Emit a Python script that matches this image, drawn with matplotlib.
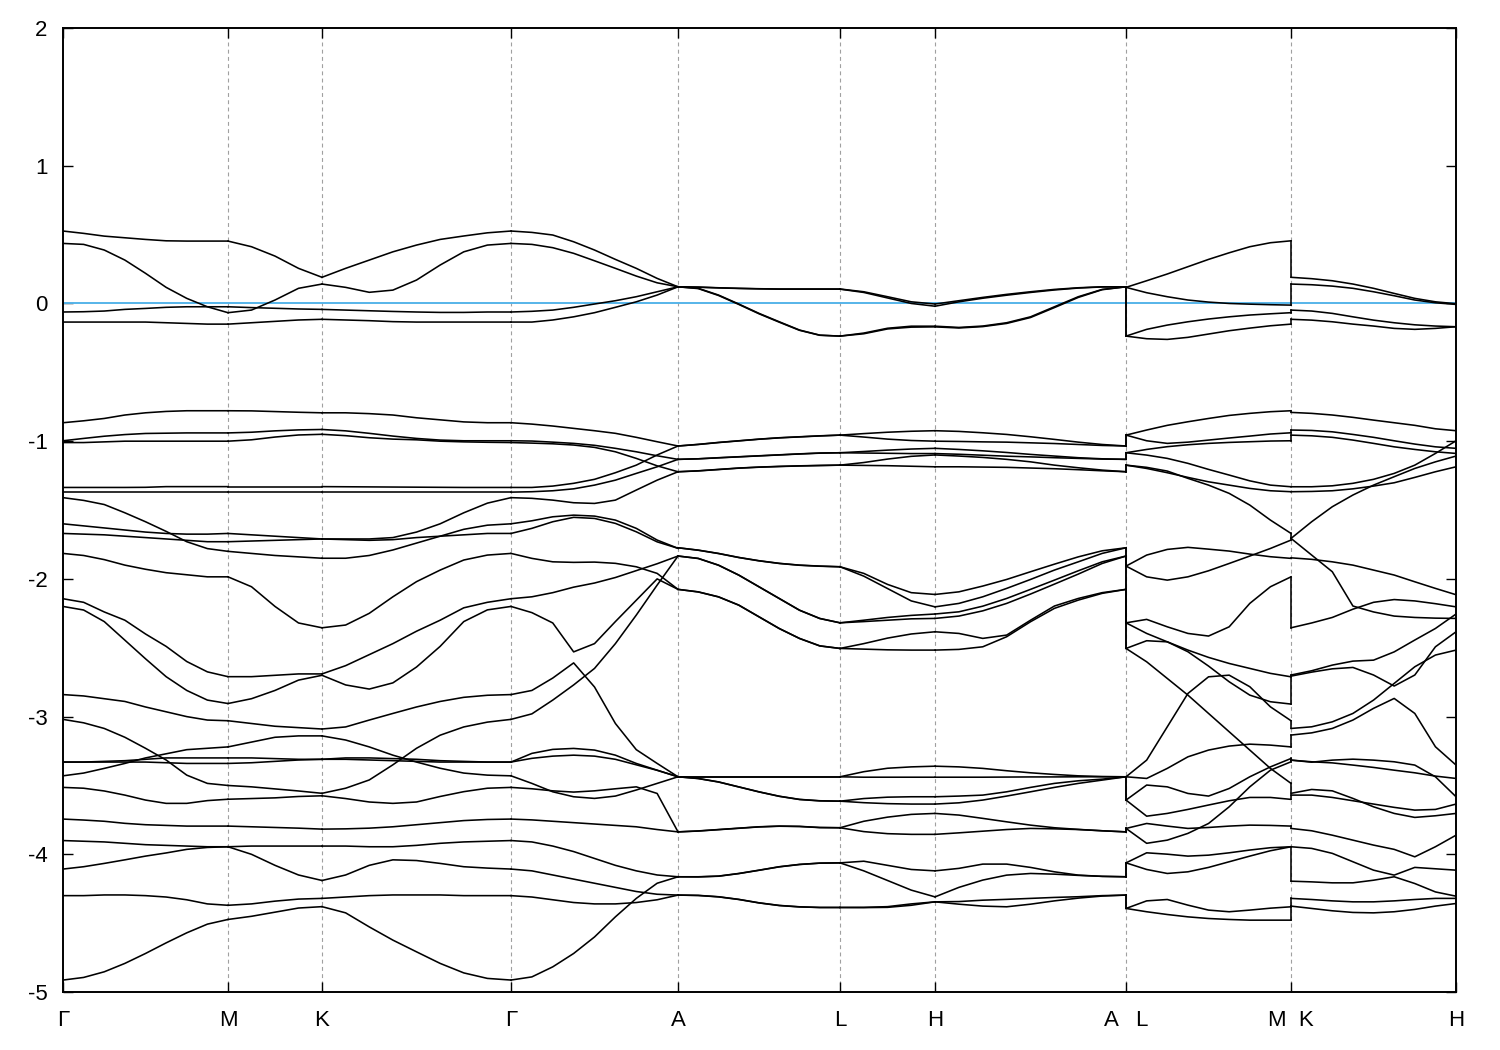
import matplotlib
matplotlib.use("Agg")
import matplotlib.pyplot as plt
import numpy as np

plt.rcParams['font.family'] = ['Liberation Sans', 'DejaVu Sans']
plt.rcParams['axes.unicode_minus'] = False

# high-symmetry points along the k-path
kpath_labels = ["Γ", "M", "K", "Γ", "A", "L", "H", "A   L", "M  K", "H"]
kpath_dist = [0.0, 1.65, 2.59, 4.48, 6.15, 7.77, 8.72, 10.63, 12.28, 13.93]

ytick_values = [-5, -4, -3, -2, -1, 0, 1, 2]

# band energies (eV) sampled evenly along each path segment
seg_GM = [
    [0.526, 0.509, 0.489, 0.477, 0.465, 0.455, 0.453, 0.453, 0.453],
    [0.436, 0.429, 0.388, 0.315, 0.219, 0.117, 0.037, -0.024, -0.067],
    [-0.062, -0.060, -0.055, -0.043, -0.036, -0.028, -0.024, -0.024, -0.024],
    [-0.135, -0.135, -0.135, -0.135, -0.135, -0.140, -0.145, -0.150, -0.150],
    [-0.866, -0.852, -0.835, -0.810, -0.794, -0.784, -0.779, -0.779, -0.779],
    [-0.997, -0.980, -0.964, -0.952, -0.944, -0.942, -0.940, -0.940, -0.940],
    [-1.010, -1.010, -1.005, -1.000, -1.000, -1.000, -1.000, -1.000, -1.000],
    [-1.336, -1.336, -1.336, -1.336, -1.335, -1.330, -1.330, -1.330, -1.330],
    [-1.370, -1.370, -1.370, -1.370, -1.370, -1.370, -1.370, -1.370, -1.370],
    [-1.410, -1.430, -1.460, -1.520, -1.585, -1.655, -1.730, -1.780, -1.800],
    [-1.600, -1.615, -1.630, -1.645, -1.660, -1.670, -1.675, -1.675, -1.670],
    [-1.670, -1.675, -1.680, -1.690, -1.700, -1.710, -1.720, -1.730, -1.730],
    [-1.815, -1.830, -1.860, -1.900, -1.930, -1.955, -1.970, -1.985, -1.985],
    [-2.144, -2.170, -2.240, -2.300, -2.400, -2.490, -2.600, -2.675, -2.710],
    [-2.200, -2.226, -2.310, -2.445, -2.580, -2.710, -2.810, -2.880, -2.905],
    [-2.840, -2.850, -2.870, -2.890, -2.930, -2.965, -3.000, -3.025, -3.030],
    [-3.020, -3.045, -3.086, -3.150, -3.230, -3.315, -3.425, -3.485, -3.500],
    [-3.330, -3.330, -3.330, -3.330, -3.330, -3.335, -3.340, -3.340, -3.340],
    [-3.330, -3.330, -3.325, -3.320, -3.310, -3.300, -3.300, -3.300, -3.300],
    [-3.430, -3.410, -3.376, -3.340, -3.300, -3.270, -3.240, -3.230, -3.220],
    [-3.514, -3.520, -3.540, -3.570, -3.606, -3.630, -3.630, -3.610, -3.600],
    [-3.744, -3.751, -3.760, -3.775, -3.785, -3.790, -3.795, -3.795, -3.795],
    [-3.900, -3.905, -3.910, -3.920, -3.930, -3.935, -3.940, -3.945, -3.945],
    [-4.107, -4.090, -4.066, -4.040, -4.013, -3.990, -3.964, -3.950, -3.945],
    [-4.300, -4.300, -4.295, -4.295, -4.300, -4.310, -4.330, -4.360, -4.370],
    [-4.913, -4.894, -4.853, -4.792, -4.720, -4.643, -4.570, -4.507, -4.473],
]

seg_MK = [
    [0.453, 0.412, 0.344, 0.255, 0.190],
    [-0.067, -0.048, 0.025, 0.110, 0.141],
    [-0.024, -0.030, -0.035, -0.040, -0.043],
    [-0.150, -0.140, -0.130, -0.120, -0.115],
    [-0.779, -0.780, -0.785, -0.790, -0.794],
    [-0.940, -0.935, -0.925, -0.918, -0.915],
    [-1.000, -0.990, -0.970, -0.955, -0.950],
    [-1.330, -1.330, -1.330, -1.330, -1.330],
    [-1.370, -1.370, -1.370, -1.370, -1.370],
    [-1.800, -1.815, -1.830, -1.840, -1.850],
    [-1.670, -1.680, -1.690, -1.700, -1.710],
    [-1.730, -1.725, -1.720, -1.715, -1.710],
    [-1.985, -2.057, -2.200, -2.320, -2.355],
    [-2.710, -2.710, -2.700, -2.690, -2.690],
    [-2.905, -2.870, -2.810, -2.735, -2.700],
    [-3.030, -3.050, -3.070, -3.080, -3.090],
    [-3.500, -3.510, -3.525, -3.540, -3.557],
    [-3.340, -3.335, -3.325, -3.315, -3.310],
    [-3.300, -3.300, -3.305, -3.310, -3.310],
    [-3.220, -3.185, -3.150, -3.140, -3.140],
    [-3.600, -3.595, -3.590, -3.580, -3.575],
    [-3.795, -3.800, -3.805, -3.810, -3.817],
    [-3.945, -3.940, -3.940, -3.940, -3.940],
    [-3.945, -4.000, -4.080, -4.150, -4.190],
    [-4.370, -4.360, -4.340, -4.325, -4.320],
    [-4.473, -4.450, -4.420, -4.390, -4.380],
]

seg_KG = [
    [0.190, 0.255, 0.315, 0.375, 0.424, 0.465, 0.490, 0.513, 0.526],
    [0.141, 0.117, 0.081, 0.097, 0.170, 0.279, 0.375, 0.424, 0.436],
    [-0.043, -0.048, -0.053, -0.058, -0.062, -0.065, -0.065, -0.062, -0.062],
    [-0.115, -0.120, -0.125, -0.132, -0.135, -0.135, -0.135, -0.135, -0.135],
    [-0.794, -0.794, -0.800, -0.810, -0.830, -0.845, -0.860, -0.866, -0.866],
    [-0.915, -0.925, -0.943, -0.963, -0.980, -0.992, -0.997, -0.997, -0.997],
    [-0.950, -0.960, -0.975, -0.985, -0.990, -1.000, -1.005, -1.008, -1.010],
    [-1.330, -1.331, -1.332, -1.333, -1.334, -1.335, -1.336, -1.336, -1.336],
    [-1.370, -1.370, -1.370, -1.370, -1.370, -1.370, -1.370, -1.370, -1.370],
    [-1.850, -1.850, -1.830, -1.790, -1.740, -1.690, -1.640, -1.610, -1.600],
    [-1.710, -1.710, -1.710, -1.700, -1.660, -1.600, -1.520, -1.450, -1.410],
    [-1.710, -1.715, -1.720, -1.715, -1.700, -1.690, -1.680, -1.670, -1.670],
    [-2.355, -2.335, -2.250, -2.130, -2.020, -1.936, -1.863, -1.827, -1.815],
    [-2.690, -2.630, -2.550, -2.470, -2.380, -2.300, -2.210, -2.170, -2.144],
    [-2.700, -2.770, -2.800, -2.755, -2.640, -2.490, -2.310, -2.225, -2.200],
    [-3.090, -3.075, -3.025, -2.977, -2.930, -2.890, -2.860, -2.845, -2.840],
    [-3.557, -3.520, -3.460, -3.350, -3.230, -3.135, -3.075, -3.040, -3.020],
    [-3.310, -3.310, -3.315, -3.320, -3.325, -3.330, -3.330, -3.330, -3.330],
    [-3.310, -3.300, -3.300, -3.305, -3.310, -3.320, -3.325, -3.330, -3.330],
    [-3.140, -3.170, -3.220, -3.280, -3.330, -3.375, -3.410, -3.425, -3.430],
    [-3.575, -3.595, -3.620, -3.630, -3.620, -3.580, -3.545, -3.520, -3.514],
    [-3.817, -3.815, -3.810, -3.800, -3.785, -3.770, -3.755, -3.747, -3.744],
    [-3.940, -3.940, -3.945, -3.945, -3.935, -3.920, -3.910, -3.905, -3.900],
    [-4.190, -4.150, -4.080, -4.040, -4.045, -4.066, -4.090, -4.100, -4.107],
    [-4.320, -4.310, -4.300, -4.295, -4.295, -4.295, -4.300, -4.300, -4.300],
    [-4.380, -4.425, -4.527, -4.623, -4.708, -4.792, -4.861, -4.901, -4.913],
]

seg_GA = [
    [0.526, 0.516, 0.497, 0.448, 0.388, 0.320, 0.255, 0.182, 0.121],
    [0.436, 0.429, 0.405, 0.364, 0.310, 0.255, 0.199, 0.150, 0.121],
    [-0.062, -0.057, -0.048, -0.028, -0.004, 0.020, 0.049, 0.085, 0.121],
    [-0.135, -0.135, -0.120, -0.097, -0.067, -0.028, 0.012, 0.061, 0.121],
    [-0.866, -0.876, -0.890, -0.907, -0.924, -0.943, -0.972, -1.004, -1.035],
    [-0.997, -0.999, -1.007, -1.016, -1.030, -1.052, -1.077, -1.106, -1.132],
    [-1.010, -1.014, -1.019, -1.028, -1.045, -1.077, -1.125, -1.179, -1.222],
    [-1.336, -1.336, -1.326, -1.306, -1.277, -1.229, -1.174, -1.100, -1.035],
    [-1.370, -1.367, -1.360, -1.346, -1.319, -1.283, -1.234, -1.186, -1.132],
    [-1.410, -1.415, -1.428, -1.447, -1.452, -1.428, -1.355, -1.283, -1.222],
    [-1.600, -1.578, -1.549, -1.537, -1.544, -1.573, -1.633, -1.718, -1.778],
    [-1.670, -1.633, -1.585, -1.553, -1.561, -1.597, -1.658, -1.731, -1.778],
    [-1.815, -1.851, -1.876, -1.880, -1.878, -1.887, -1.912, -1.960, -2.076],
    [-2.144, -2.130, -2.100, -2.060, -2.030, -1.990, -1.940, -1.890, -1.834],
    [-2.200, -2.245, -2.320, -2.530, -2.470, -2.310, -2.155, -2.000, -2.076],
    [-2.840, -2.810, -2.720, -2.610, -2.785, -3.050, -3.240, -3.340, -3.437],
    [-3.020, -2.980, -2.880, -2.770, -2.650, -2.470, -2.263, -2.045, -1.834],
    [-3.330, -3.267, -3.238, -3.231, -3.243, -3.280, -3.340, -3.389, -3.437],
    [-3.330, -3.303, -3.287, -3.280, -3.287, -3.310, -3.350, -3.390, -3.437],
    [-3.430, -3.485, -3.546, -3.582, -3.594, -3.577, -3.533, -3.485, -3.437],
    [-3.514, -3.524, -3.539, -3.548, -3.539, -3.524, -3.510, -3.558, -3.837],
    [-3.744, -3.750, -3.760, -3.770, -3.780, -3.790, -3.800, -3.820, -3.837],
    [-3.900, -3.910, -3.940, -3.980, -4.030, -4.080, -4.120, -4.150, -4.163],
    [-4.107, -4.120, -4.150, -4.180, -4.210, -4.240, -4.270, -4.290, -4.296],
    [-4.300, -4.310, -4.330, -4.350, -4.360, -4.360, -4.350, -4.330, -4.296],
    [-4.913, -4.890, -4.817, -4.720, -4.600, -4.454, -4.320, -4.210, -4.163],
]

seg_AL = [
    [0.121, 0.119, 0.114, 0.110, 0.107, 0.105, 0.105, 0.105, 0.105],
    [0.121, 0.118, 0.113, 0.109, 0.106, 0.104, 0.104, 0.104, 0.104],
    [0.121, 0.110, 0.061, -0.004, -0.072, -0.133, -0.193, -0.230, -0.237],
    [0.121, 0.108, 0.058, -0.007, -0.075, -0.136, -0.195, -0.231, -0.237],
    [-1.035, -1.023, -1.009, -0.997, -0.985, -0.975, -0.968, -0.961, -0.956],
    [-1.035, -1.024, -1.010, -0.998, -0.986, -0.976, -0.969, -0.962, -0.956],
    [-1.132, -1.128, -1.120, -1.113, -1.106, -1.099, -1.092, -1.086, -1.084],
    [-1.132, -1.128, -1.121, -1.114, -1.107, -1.100, -1.093, -1.087, -1.084],
    [-1.222, -1.215, -1.205, -1.195, -1.188, -1.183, -1.179, -1.176, -1.174],
    [-1.222, -1.216, -1.206, -1.196, -1.189, -1.184, -1.180, -1.177, -1.174],
    [-1.774, -1.791, -1.815, -1.844, -1.868, -1.887, -1.900, -1.907, -1.912],
    [-1.774, -1.792, -1.816, -1.845, -1.869, -1.888, -1.901, -1.908, -1.912],
    [-2.076, -2.094, -2.130, -2.190, -2.275, -2.360, -2.432, -2.486, -2.505],
    [-1.834, -1.851, -1.900, -1.972, -2.057, -2.142, -2.227, -2.287, -2.319],
    [-2.076, -2.095, -2.131, -2.191, -2.276, -2.361, -2.433, -2.487, -2.505],
    [-3.437, -3.437, -3.437, -3.437, -3.437, -3.437, -3.437, -3.437, -3.437],
    [-1.834, -1.852, -1.901, -1.973, -2.058, -2.143, -2.228, -2.288, -2.319],
    [-3.437, -3.437, -3.437, -3.437, -3.437, -3.437, -3.437, -3.437, -3.437],
    [-3.437, -3.449, -3.474, -3.510, -3.546, -3.578, -3.601, -3.611, -3.614],
    [-3.437, -3.450, -3.475, -3.511, -3.547, -3.579, -3.602, -3.612, -3.614],
    [-3.837, -3.830, -3.820, -3.810, -3.800, -3.795, -3.797, -3.805, -3.807],
    [-3.837, -3.831, -3.821, -3.811, -3.801, -3.796, -3.798, -3.806, -3.807],
    [-4.163, -4.163, -4.158, -4.139, -4.115, -4.090, -4.073, -4.064, -4.062],
    [-4.296, -4.298, -4.308, -4.327, -4.352, -4.371, -4.381, -4.386, -4.386],
    [-4.296, -4.299, -4.309, -4.328, -4.353, -4.372, -4.382, -4.386, -4.386],
    [-4.163, -4.164, -4.159, -4.140, -4.116, -4.091, -4.074, -4.064, -4.062],
]

seg_LH = [
    [0.105, 0.085, 0.049, 0.012, -0.004],
    [0.104, 0.080, 0.040, 0.000, -0.020],
    [-0.237, -0.215, -0.180, -0.165, -0.165],
    [-0.237, -0.220, -0.185, -0.172, -0.170],
    [-0.956, -0.945, -0.935, -0.928, -0.924],
    [-1.084, -1.075, -1.065, -1.057, -1.052],
    [-1.174, -1.155, -1.130, -1.110, -1.100],
    [-0.956, -0.970, -0.985, -0.995, -1.000],
    [-1.084, -1.086, -1.088, -1.090, -1.090],
    [-1.174, -1.176, -1.178, -1.182, -1.186],
    [-1.912, -1.960, -2.040, -2.100, -2.113],
    [-1.912, -1.980, -2.070, -2.160, -2.203],
    [-2.505, -2.470, -2.430, -2.400, -2.384],
    [-2.319, -2.300, -2.280, -2.265, -2.255],
    [-2.505, -2.510, -2.515, -2.517, -2.517],
    [-3.437, -3.400, -3.375, -3.365, -3.360],
    [-2.319, -2.310, -2.300, -2.290, -2.287],
    [-3.437, -3.440, -3.440, -3.440, -3.440],
    [-3.614, -3.595, -3.585, -3.582, -3.582],
    [-3.614, -3.625, -3.632, -3.635, -3.635],
    [-3.807, -3.760, -3.730, -3.710, -3.703],
    [-3.807, -3.835, -3.850, -3.855, -3.855],
    [-4.062, -4.050, -4.080, -4.110, -4.120],
    [-4.386, -4.385, -4.380, -4.360, -4.345],
    [-4.386, -4.387, -4.385, -4.370, -4.345],
    [-4.062, -4.120, -4.190, -4.260, -4.309],
]

seg_HA = [
    [-0.004, 0.020, 0.044, 0.066, 0.085, 0.102, 0.114, 0.121, 0.121],
    [-0.020, 0.012, 0.038, 0.060, 0.080, 0.098, 0.112, 0.120, 0.121],
    [-0.165, -0.174, -0.164, -0.140, -0.097, -0.024, 0.049, 0.102, 0.121],
    [-0.170, -0.178, -0.168, -0.145, -0.102, -0.030, 0.044, 0.100, 0.121],
    [-0.924, -0.929, -0.939, -0.951, -0.968, -0.987, -1.007, -1.024, -1.035],
    [-1.052, -1.060, -1.070, -1.082, -1.096, -1.108, -1.120, -1.128, -1.132],
    [-1.100, -1.108, -1.118, -1.132, -1.150, -1.174, -1.193, -1.210, -1.222],
    [-1.000, -1.002, -1.005, -1.007, -1.012, -1.017, -1.024, -1.031, -1.035],
    [-1.090, -1.095, -1.102, -1.109, -1.114, -1.120, -1.125, -1.130, -1.132],
    [-1.186, -1.186, -1.188, -1.190, -1.195, -1.200, -1.207, -1.215, -1.222],
    [-2.113, -2.094, -2.052, -2.004, -1.948, -1.893, -1.840, -1.796, -1.774],
    [-2.203, -2.178, -2.130, -2.069, -2.004, -1.936, -1.876, -1.815, -1.774],
    [-2.384, -2.396, -2.432, -2.408, -2.300, -2.197, -2.142, -2.100, -2.076],
    [-2.255, -2.239, -2.198, -2.142, -2.076, -2.009, -1.941, -1.876, -1.834],
    [-2.517, -2.512, -2.493, -2.420, -2.311, -2.214, -2.154, -2.105, -2.076],
    [-3.360, -3.365, -3.376, -3.393, -3.408, -3.420, -3.430, -3.435, -3.437],
    [-2.287, -2.270, -2.232, -2.178, -2.110, -2.038, -1.965, -1.888, -1.834],
    [-3.440, -3.440, -3.440, -3.439, -3.438, -3.438, -3.437, -3.437, -3.437],
    [-3.582, -3.577, -3.570, -3.546, -3.514, -3.485, -3.466, -3.454, -3.437],
    [-3.635, -3.626, -3.606, -3.577, -3.546, -3.514, -3.485, -3.461, -3.437],
    [-3.703, -3.715, -3.739, -3.764, -3.788, -3.807, -3.819, -3.829, -3.837],
    [-3.855, -3.844, -3.832, -3.820, -3.812, -3.815, -3.820, -3.829, -3.837],
    [-4.120, -4.102, -4.071, -4.071, -4.095, -4.127, -4.151, -4.160, -4.163],
    [-4.345, -4.362, -4.376, -4.381, -4.362, -4.338, -4.318, -4.303, -4.296],
    [-4.345, -4.343, -4.333, -4.327, -4.320, -4.313, -4.308, -4.300, -4.296],
    [-4.309, -4.240, -4.187, -4.151, -4.139, -4.144, -4.153, -4.160, -4.163],
]

seg_LM = [
    [0.117, 0.165, 0.214, 0.267, 0.320, 0.368, 0.412, 0.441, 0.455],
    [0.117, 0.078, 0.049, 0.025, 0.010, 0.000, -0.005, -0.009, -0.012],
    [-0.237, -0.188, -0.157, -0.133, -0.113, -0.097, -0.084, -0.075, -0.067],
    [-0.237, -0.256, -0.261, -0.246, -0.222, -0.198, -0.179, -0.162, -0.150],
    [-0.956, -0.919, -0.885, -0.859, -0.835, -0.813, -0.798, -0.786, -0.779],
    [-0.956, -0.997, -1.016, -1.007, -0.992, -0.977, -0.963, -0.948, -0.939],
    [-1.084, -1.060, -1.040, -1.026, -1.016, -1.009, -1.004, -0.999, -0.997],
    [-1.084, -1.101, -1.125, -1.161, -1.205, -1.246, -1.288, -1.319, -1.331],
    [-1.174, -1.198, -1.229, -1.263, -1.295, -1.319, -1.343, -1.360, -1.367],
    [-1.174, -1.190, -1.217, -1.270, -1.319, -1.379, -1.464, -1.573, -1.670],
    [-1.907, -1.827, -1.786, -1.771, -1.784, -1.798, -1.820, -1.839, -1.851],
    [-1.907, -1.985, -2.009, -1.985, -1.941, -1.888, -1.834, -1.779, -1.718],
    [-2.319, -2.294, -2.348, -2.396, -2.415, -2.348, -2.178, -2.057, -1.985],
    [-2.319, -2.396, -2.457, -2.517, -2.570, -2.614, -2.650, -2.686, -2.711],
    [-2.505, -2.449, -2.457, -2.529, -2.633, -2.747, -2.844, -2.892, -2.909],
    [-2.505, -2.602, -2.723, -2.844, -2.977, -3.110, -3.243, -3.376, -3.485],
    [-3.437, -3.316, -3.074, -2.832, -2.711, -2.699, -2.783, -2.929, -3.030],
    [-3.437, -3.449, -3.376, -3.292, -3.243, -3.214, -3.200, -3.207, -3.220],
    [-3.606, -3.497, -3.510, -3.558, -3.577, -3.522, -3.437, -3.365, -3.304],
    [-3.606, -3.723, -3.703, -3.674, -3.642, -3.611, -3.587, -3.587, -3.601],
    [-3.812, -3.776, -3.795, -3.812, -3.805, -3.795, -3.788, -3.790, -3.795],
    [-3.812, -3.920, -3.897, -3.848, -3.776, -3.655, -3.510, -3.389, -3.328],
    [-4.062, -3.989, -3.999, -4.013, -4.006, -3.989, -3.969, -3.952, -3.945],
    [-4.062, -4.110, -4.139, -4.127, -4.095, -4.054, -4.013, -3.974, -3.945],
    [-4.393, -4.338, -4.328, -4.369, -4.405, -4.417, -4.405, -4.391, -4.381],
    [-4.393, -4.417, -4.437, -4.454, -4.466, -4.473, -4.478, -4.478, -4.478],
]

seg_KH = [
    [0.190, 0.180, 0.165, 0.141, 0.110, 0.073, 0.037, 0.012, -0.002],
    [0.141, 0.136, 0.126, 0.110, 0.085, 0.056, 0.025, 0.005, -0.007],
    [-0.048, -0.055, -0.072, -0.097, -0.121, -0.140, -0.155, -0.164, -0.169],
    [-0.115, -0.121, -0.133, -0.150, -0.164, -0.181, -0.188, -0.181, -0.169],
    [-0.791, -0.798, -0.810, -0.827, -0.847, -0.866, -0.885, -0.910, -0.924],
    [-0.919, -0.922, -0.932, -0.951, -0.972, -0.997, -1.021, -1.041, -1.052],
    [-0.956, -0.961, -0.972, -0.992, -1.016, -1.041, -1.060, -1.077, -1.089],
    [-1.331, -1.331, -1.324, -1.306, -1.277, -1.234, -1.174, -1.089, -0.997],
    [-1.367, -1.365, -1.360, -1.346, -1.326, -1.302, -1.263, -1.222, -1.186],
    [-1.706, -1.585, -1.476, -1.391, -1.319, -1.258, -1.198, -1.150, -1.108],
    [-1.847, -1.858, -1.876, -1.900, -1.936, -1.972, -2.021, -2.069, -2.115],
    [-1.706, -1.827, -1.948, -2.197, -2.240, -2.270, -2.280, -2.285, -2.287],
    [-2.355, -2.320, -2.280, -2.220, -2.170, -2.150, -2.160, -2.180, -2.203],
    [-2.698, -2.667, -2.626, -2.597, -2.590, -2.530, -2.444, -2.360, -2.255],
    [-2.706, -2.677, -2.653, -2.643, -2.698, -2.778, -2.698, -2.493, -2.384],
    [-3.086, -3.074, -3.038, -2.977, -2.880, -2.759, -2.638, -2.553, -2.517],
    [-3.134, -3.118, -3.086, -3.025, -2.940, -2.868, -2.977, -3.219, -3.352],
    [-3.316, -3.328, -3.336, -3.352, -3.369, -3.389, -3.408, -3.432, -3.449],
    [-3.316, -3.331, -3.316, -3.309, -3.316, -3.328, -3.352, -3.437, -3.582],
    [-3.557, -3.529, -3.539, -3.594, -3.655, -3.703, -3.732, -3.720, -3.703],
    [-3.570, -3.570, -3.587, -3.611, -3.635, -3.659, -3.679, -3.674, -3.635],
    [-3.812, -3.829, -3.861, -3.897, -3.933, -3.964, -4.018, -3.945, -3.861],
    [-3.945, -3.957, -3.993, -4.054, -4.115, -4.151, -4.095, -4.105, -4.115],
    [-4.195, -4.200, -4.207, -4.207, -4.188, -4.163, -4.212, -4.273, -4.304],
    [-4.320, -4.328, -4.338, -4.345, -4.345, -4.338, -4.328, -4.320, -4.320],
    [-4.376, -4.393, -4.410, -4.422, -4.425, -4.417, -4.400, -4.376, -4.357],
]

# path segments: (start point index, end point index, band data)
segments = [
    (0, 1, seg_GM), (1, 2, seg_MK), (2, 3, seg_KG), (3, 4, seg_GA),
    (4, 5, seg_AL), (5, 6, seg_LH), (6, 7, seg_HA), (7, 8, seg_LM),
    (8, 9, seg_KH),
]

fig = plt.figure(figsize=(15, 10.5), dpi=100)
ax = fig.add_axes([0.042, 0.0552, 0.9287, 0.9181])

band_kw = dict(color='black', lw=1.15, solid_joinstyle='round', zorder=3)

prev_end = None
for i0, i1, bands in segments:
    k0, k1 = kpath_dist[i0], kpath_dist[i1]
    for b in bands:
        x = np.linspace(k0, k1, len(b))
        ax.plot(x, b, **band_kw)
    starts = sorted(b[0] for b in bands)
    if prev_end is not None:
        for e0, e1 in zip(prev_end, starts):
            if abs(e0 - e1) > 1e-6:
                ax.plot([k0, k0], [e0, e1], **band_kw)
    prev_end = sorted(b[-1] for b in bands)

# Fermi level
ax.axhline(0.0, color='#56b4e9', lw=1.4, zorder=2)

# vertical guides at interior high-symmetry points
for k in kpath_dist[1:-1]:
    ax.axvline(k, color='#a0a0a0', lw=0.8, ls=(0, (3.5, 3)), zorder=1)

ax.set_xlim(kpath_dist[0], kpath_dist[-1])
ax.set_ylim(-5, 2)
ax.set_xticks(kpath_dist)
ax.set_xticklabels(kpath_labels)
ax.set_yticks(ytick_values)
ax.set_yticklabels([str(v) for v in ytick_values])

ax.tick_params(axis='both', which='major', direction='in', length=7, width=1.0,
               labelsize=16, top=True, right=True, colors='black')
ax.tick_params(axis='y', pad=11)
ax.tick_params(axis='x', pad=13)
for s in ax.spines.values():
    s.set_linewidth(1.4)
    s.set_color('black')

fig.savefig('out.png', dpi=100)
